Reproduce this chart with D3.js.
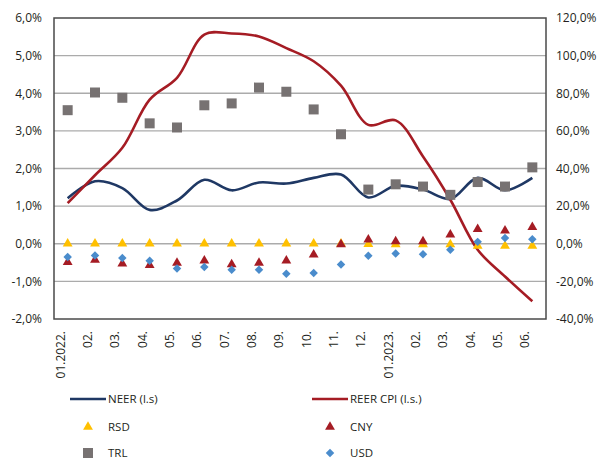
<!DOCTYPE html>
<html><head><meta charset="utf-8">
<script src="https://cdn.jsdelivr.net/npm/d3@7"></script>
<style>
body{margin:0;background:#fff;}
svg{display:block;font-family:"Open Sans",sans-serif;}
</style></head>
<body><svg id="c" width="598" height="461"></svg>
<script>
const categories = ["01.2022.","02.","03.","04.","05.","06.","07.","08.","09.","10.","11.","12.","01.2023.","02.","03.","04.","05.","06."];
const neer = [1.21,1.66,1.48,0.90,1.15,1.70,1.42,1.63,1.60,1.75,1.84,1.23,1.54,1.44,1.19,1.75,1.42,1.75];
const reerCpi = [1.08,1.82,2.55,3.83,4.41,5.56,5.59,5.51,5.20,4.85,4.20,3.16,3.28,2.32,1.17,-0.16,-0.87,-1.53];
const rsd = [0,0,0,0,0,0,0,0,0,0,0,-0.01,-0.02,-0.02,-0.02,-0.06,-0.06,-0.06];
const cny = [-0.49,-0.43,-0.53,-0.57,-0.51,-0.45,-0.55,-0.51,-0.45,-0.29,-0.02,0.11,0.06,0.06,0.24,0.39,0.35,0.44];
const trl = [3.55,4.02,3.88,3.20,3.09,3.68,3.73,4.15,4.04,3.57,2.91,1.44,1.58,1.52,1.30,1.64,1.52,2.03];
const usd = [-0.35,-0.31,-0.38,-0.45,-0.66,-0.62,-0.69,-0.69,-0.80,-0.78,-0.55,-0.32,-0.26,-0.28,-0.16,0.05,0.15,0.12];
const leftTicks = [-2,-1,0,1,2,3,4,5,6];
const rightTicks = [-40,-20,0,20,40,60,80,100,120];

const svg = d3.select("#c");
const L=54, R=546, T=18, B=319;
const x = d3.scaleBand().domain(d3.range(categories.length)).range([L,R]);
const y = d3.scaleLinear().domain([-2,6]).range([B,T]);
const y2 = d3.scaleLinear().domain([-40,120]).range([B,T]);
const cx = (i)=>x(i)+x.bandwidth()/2;
const fmt = v => d3.format(".1f")(v).replace(".",",").replace("−","-")+"%";
const textCol="#231f20";

// gridlines
svg.append("g").selectAll("line").data(leftTicks.filter(t=>t>-2&&t<6)).join("line")
  .attr("x1",L).attr("x2",R).attr("y1",d=>y(d)).attr("y2",d=>y(d))
  .attr("stroke","#ababab").attr("stroke-width",1.3);
// frame
svg.append("rect").attr("x",L).attr("y",T).attr("width",R-L).attr("height",B-T)
  .attr("fill","none").attr("stroke","#4a4a4a").attr("stroke-width",1.5);

// axis labels
const ax = d3.axisLeft(y).tickValues(leftTicks).tickFormat(fmt).tickSize(0).tickPadding(12);
const gl = svg.append("g").attr("transform",`translate(${L},0)`).call(ax);
gl.select(".domain").remove();
gl.selectAll("text").attr("font-size",12).attr("fill",textCol).attr("font-family","Open Sans");
const ax2 = d3.axisRight(y2).tickValues(rightTicks).tickFormat(fmt).tickSize(0).tickPadding(10);
const gr = svg.append("g").attr("transform",`translate(${R},0)`).call(ax2);
gr.select(".domain").remove();
gr.selectAll("text").attr("font-size",12).attr("fill",textCol).attr("font-family","Open Sans");

// x labels
svg.append("g").selectAll("text").data(categories).join("text")
  .attr("transform",(d,i)=>`translate(${cx(i)-3},${331}) rotate(-90)`)
  .attr("text-anchor","end").attr("font-size",12).attr("fill",textCol).text(d=>d);

// lines
const line = d3.line().x((d,i)=>cx(i)).y(d=>y(d)).curve(d3.curveCatmullRom.alpha(0.5));
svg.append("path").datum(neer).attr("d",line).attr("fill","none").attr("stroke","#1f3864").attr("stroke-width",2.6);
svg.append("path").datum(reerCpi).attr("d",line).attr("fill","none").attr("stroke","#a51c24").attr("stroke-width",2.6);

// markers
const tri = d3.symbol().type(d3.symbolTriangle).size(42);
const sq = d3.symbol().type(d3.symbolSquare).size(100);
const dia = d3.symbol().type(d3.symbolSquare).size(36);
svg.append("g").selectAll("path").data(trl).join("path")
  .attr("transform",(d,i)=>`translate(${cx(i)},${y(d)})`).attr("d",sq).attr("fill","#777272");
svg.append("g").selectAll("path").data(rsd).join("path")
  .attr("transform",(d,i)=>`translate(${cx(i)},${y(d)})`).attr("d",tri).attr("fill","#ffc000");
svg.append("g").selectAll("path").data(cny).join("path")
  .attr("transform",(d,i)=>`translate(${cx(i)},${y(d)})`).attr("d",tri).attr("fill","#a51c24");
svg.append("g").selectAll("path").data(usd).join("path")
  .attr("transform",(d,i)=>`translate(${cx(i)},${y(d)}) rotate(45)`).attr("d",dia).attr("fill","#4a8ccc");

// legend
const lg = svg.append("g").attr("font-size",11.5).attr("fill",textCol);
function legLine(x0,yy,col,label){
  lg.append("line").attr("x1",x0).attr("x2",x0+36).attr("y1",yy).attr("y2",yy).attr("stroke",col).attr("stroke-width",2.6);
  lg.append("text").attr("x",x0+38).attr("y",yy).attr("dy","0.35em").text(label);
}
function legSym(x0,yy,sym,col,label,rot){
  lg.append("path").attr("transform",`translate(${x0},${yy}) rotate(${rot||0})`).attr("d",sym).attr("fill",col);
  lg.append("text").attr("x",x0+20).attr("y",yy).attr("dy","0.35em").text(label);
}
legLine(70,399,"#1f3864","NEER (l.s)");
legLine(312,399,"#a51c24","REER CPI (l.s.)");
legSym(88,427,tri,"#ffc000","RSD");
legSym(330,427,tri,"#a51c24","CNY");
legSym(88,453,sq,"#777272","TRL");
legSym(330,453,dia,"#4a8ccc","USD",45);
</script></body></html>
